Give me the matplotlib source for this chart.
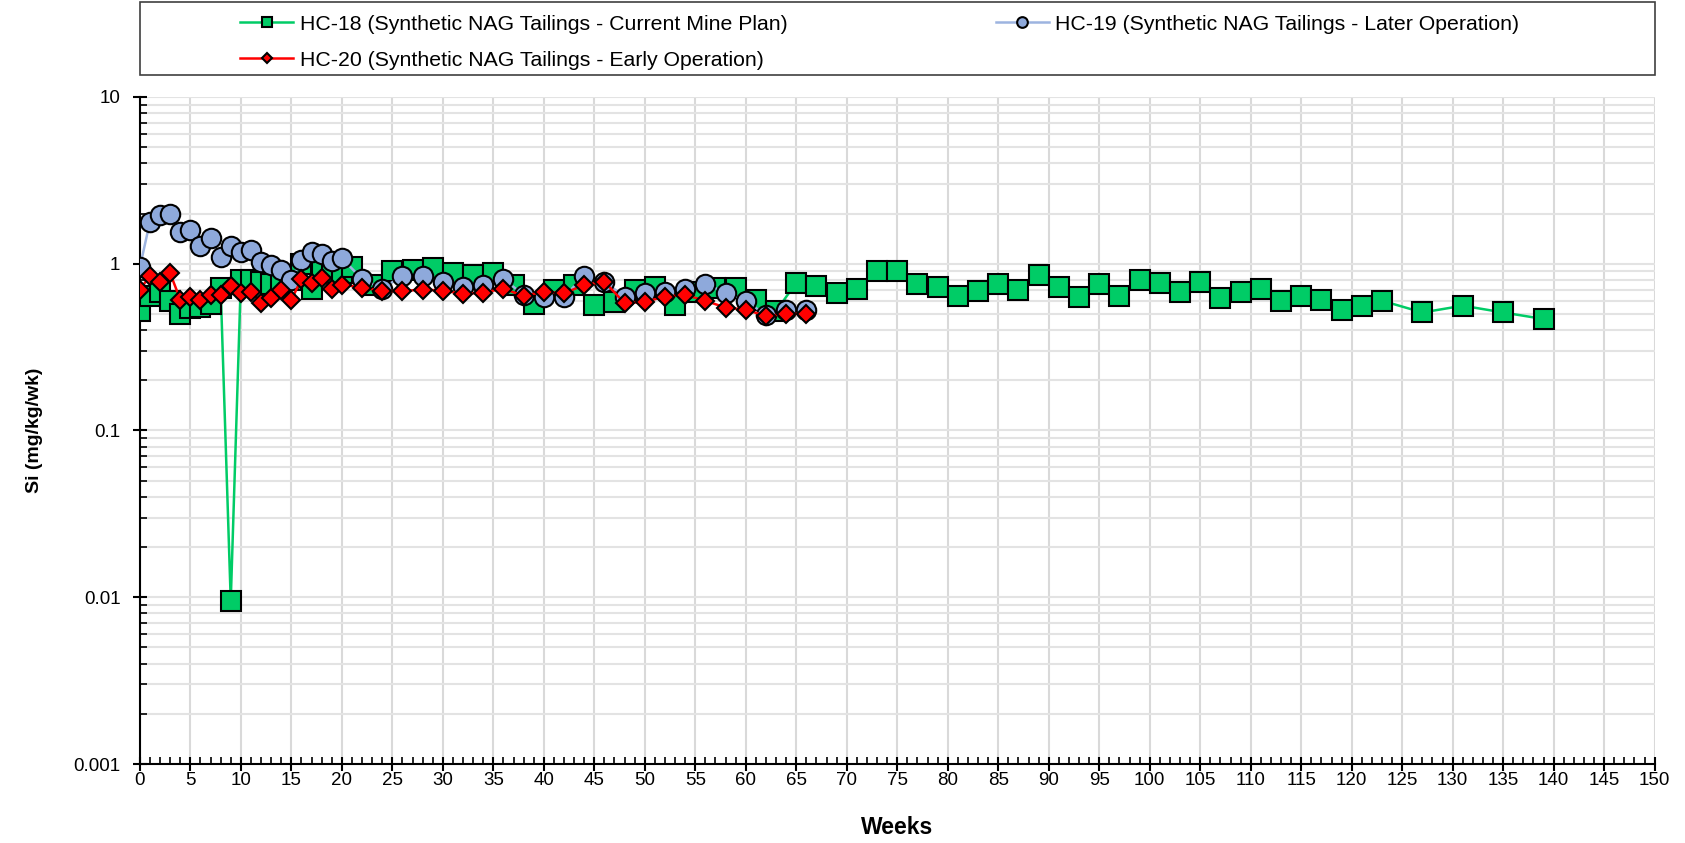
import matplotlib
matplotlib.use("Agg")
import matplotlib.pyplot as plt
from matplotlib.ticker import FixedLocator, LogLocator, NullFormatter, FuncFormatter, MultipleLocator
from matplotlib.patches import Rectangle

plt.rcParams['font.family'] = ['Liberation Sans', 'DejaVu Sans']

# HC-18: weekly to wk 21, then every 2nd week
hc18_weeks = list(range(0, 22)) + list(range(23, 124, 2)) + [127, 131, 135, 139]
hc18_si = [0.52, 0.64, 0.68, 0.60, 0.50, 0.54, 0.55, 0.57, 0.72, 0.0095,
           0.80, 0.80, 0.78, 0.76, 0.78, 0.80, 1.0, 0.71, 0.90, 0.88,
           0.88, 0.95,
           0.75, 0.90, 0.92, 0.94, 0.88, 0.86, 0.88, 0.75, 0.57, 0.70,
           0.75, 0.565, 0.59, 0.70, 0.73, 0.565, 0.68, 0.72, 0.72, 0.61,
           0.52, 0.77, 0.735, 0.67, 0.71, 0.91, 0.90, 0.756, 0.73, 0.64,
           0.69, 0.76, 0.70, 0.856, 0.73, 0.635, 0.756, 0.64, 0.80, 0.77,
           0.674, 0.78, 0.62, 0.674, 0.705, 0.60, 0.64, 0.61, 0.53, 0.56,
           0.60,
           0.51, 0.56, 0.51, 0.466]

# HC-19 and HC-20: weekly to wk 20, then every 2nd week to wk 66
hc19_weeks = list(range(0, 21)) + list(range(22, 67, 2))
hc19_si = [0.95, 1.79, 1.96, 1.98, 1.56, 1.59, 1.27, 1.42, 1.10, 1.27,
           1.18, 1.21, 1.03, 0.98, 0.92, 0.80, 1.05, 1.18, 1.15, 1.04,
           1.08,
           0.81, 0.71, 0.845, 0.845, 0.78, 0.73, 0.745, 0.81, 0.65, 0.635,
           0.635, 0.84, 0.78, 0.635, 0.665, 0.68, 0.71, 0.76, 0.67, 0.60,
           0.49, 0.53, 0.53]

hc20_weeks = list(range(0, 21)) + list(range(22, 67, 2))
hc20_si = [0.70, 0.845, 0.78, 0.877, 0.61, 0.635, 0.606, 0.65, 0.65, 0.735,
           0.67, 0.68, 0.585, 0.62, 0.70, 0.606, 0.81, 0.77, 0.82, 0.71,
           0.75,
           0.72, 0.686, 0.686, 0.70, 0.69, 0.66, 0.67, 0.71, 0.64, 0.68,
           0.665, 0.745, 0.78, 0.58, 0.59, 0.635, 0.65, 0.60, 0.545, 0.53,
           0.486, 0.50, 0.50]

labels = ["HC-18 (Synthetic NAG Tailings - Current Mine Plan)",
          "HC-19 (Synthetic NAG Tailings - Later Operation)",
          "HC-20 (Synthetic NAG Tailings - Early Operation)"]

fig = plt.figure(figsize=(16.85, 8.43), dpi=100)
ax = fig.add_axes([0.083, 0.0937, 0.899, 0.7913])

l18, = ax.plot(hc18_weeks, hc18_si, color='#00CC66', lw=1.8, marker='s', ms=14,
               mfc='#00CC66', mec='black', mew=1.5, label=labels[0], zorder=3)
l19, = ax.plot(hc19_weeks, hc19_si, color='#9DB4E0', lw=1.8, marker='o', ms=14,
               mfc='#8EA9DB', mec='black', mew=1.5, label=labels[1], zorder=4)
l20, = ax.plot(hc20_weeks, hc20_si, color='#FF0000', lw=1.8, marker='D', ms=9.5,
               mfc='#FF0000', mec='black', mew=1.5, label=labels[2], zorder=5)

ax.set_yscale('log')
ax.set_ylim(0.001, 10)
ax.set_xlim(0, 150)

ax.xaxis.set_major_locator(MultipleLocator(5))
ax.xaxis.set_minor_locator(MultipleLocator(1))
ax.yaxis.set_major_locator(FixedLocator([0.001, 0.01, 0.1, 1, 10]))
ax.yaxis.set_minor_locator(LogLocator(base=10, subs=range(2, 10)))
ax.yaxis.set_minor_formatter(NullFormatter())
ax.yaxis.set_major_formatter(FuncFormatter(lambda v, p: '{:g}'.format(v)))

ax.grid(True, which='major', axis='x', color='#D9D9D9', lw=1.5)
ax.grid(True, which='both', axis='y', color='#E3E3E3', lw=1.5)
ax.set_axisbelow(True)

for s in ['top', 'right']:
    ax.spines[s].set_visible(False)
for s in ['left', 'bottom']:
    ax.spines[s].set_linewidth(1.5)
    ax.spines[s].set_color('black')

ax.tick_params(which='major', direction='inout', length=10, width=1.5, labelsize=13.5)
ax.tick_params(which='minor', direction='in', length=5, width=1.2)
ax.tick_params(axis='x', which='major', pad=0.5)
ax.tick_params(axis='y', which='major', pad=9)

ax.set_xlabel('Weeks', fontsize=16.5, fontweight='bold', labelpad=20)
ax.set_ylabel('Si (mg/kg/wk)', fontsize=14, fontweight='bold', labelpad=22)

# legend box across the top
fig.patches.append(Rectangle((0.083, 0.911), 0.899, 0.087, transform=fig.transFigure,
                             fill=False, edgecolor='#404040', lw=1.2))
fig.legend(handles=[l18, l20, l19], labels=[labels[0], labels[2], labels[1]],
           ncol=2, loc='center', bbox_to_anchor=(0.522, 0.950), frameon=False,
           fontsize=15.3, markerscale=0.55, handlelength=2.5, handletextpad=0.3,
           columnspacing=9.8, labelspacing=0.8)

fig.savefig('out.png', dpi=100)
